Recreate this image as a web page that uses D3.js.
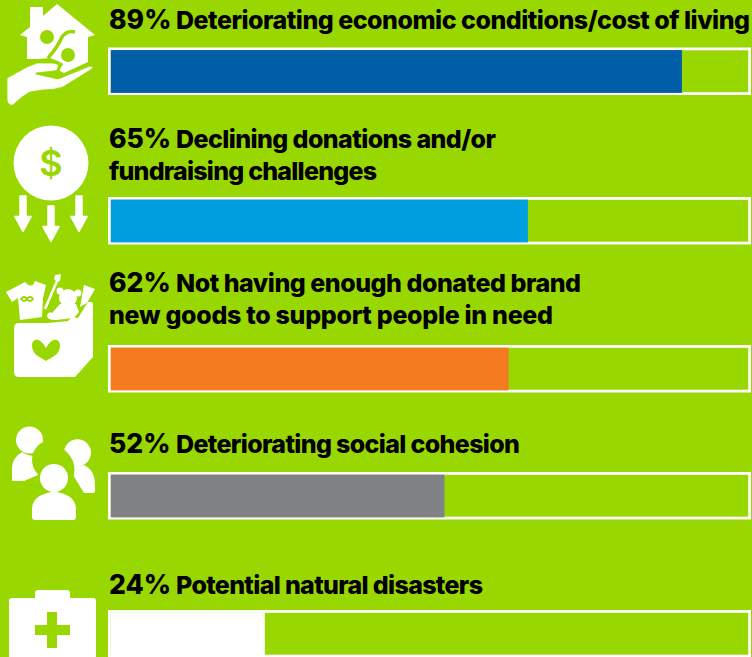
<!DOCTYPE html>
<html>
<head>
<meta charset="utf-8">
<script src="https://cdn.jsdelivr.net/npm/d3@7"></script>
<style>
html, body { margin: 0; padding: 0; background: #99d700; overflow: hidden; }
text { font-family: Inter, "Noto Sans", sans-serif; font-weight: 800; fill: #000; }
</style>
</head>
<body>
<svg id="chart"></svg>
<script>
const values = [89, 65, 62, 52, 24];
const labels = [
    ["Deteriorating economic conditions/cost of living"],
    ["Declining donations and/or", "fundraising challenges"],
    ["Not having enough donated brand", "new goods to support people in need"],
    ["Deteriorating social cohesion"],
    ["Potential natural disasters"]
];
const barColors = ["#005ea8", "#009fe0", "#f47b20", "#808285", "#ffffff"];
const barTops = [47.5, 197, 345, 472, 610];
const firstLineY = [29, 148, 292, 453, 594];
// widths the label lines take up in the reference
const lineWidths = [[574], [320, 268], [405, 444], [344], [307]];

const width = 752, height = 657;
const green = "#99d700";

const svg = d3.select("#chart").attr("width", width).attr("height", height);

const x = d3.scaleLinear().domain([0, 100]).range([110.8, 752.5]);

const rows = svg.selectAll("g.row")
    .data(values.map((v, i) => ({ v, i })))
    .join("g")
    .attr("class", "row");

// outline
rows.append("rect")
    .attr("x", 109.4)
    .attr("y", d => barTops[d.i] + 1.4)
    .attr("width", 640.2)
    .attr("height", 44.7)
    .attr("fill", "none")
    .attr("stroke", "#fff")
    .attr("stroke-width", 2.8);

// value bar
rows.append("rect")
    .attr("x", x(0))
    .attr("y", d => barTops[d.i] + 2.6)
    .attr("width", d => x(d.v) - x(0))
    .attr("height", 42.8)
    .attr("fill", d => barColors[d.i]);

// labels
rows.each(function(d) {
    const g = d3.select(this);
    labels[d.i].forEach((line, k) => {
        const y = firstLineY[d.i] + k * 32;
        if (k === 0) {
            g.append("text").attr("x", 109).attr("y", y)
                .attr("font-size", 26.5)
                .text(d.v + "%");
        }
        g.append("text")
            .attr("x", k === 0 ? 176 : 109)
            .attr("y", y)
            .attr("font-size", 25)
            .attr("textLength", lineWidths[d.i][k])
            .text(line);
    });
});

// icons
const icons = svg.append("g").attr("fill", "#fff");

// house in hand
icons.append("path").attr("d", "M57 4 L95 35 L88 37 L88 62 L64 73 L58 70 L60 62 L50 58 L38 59 L27 59 L27 37 L20 35 L30 27 L30 7 L43 7 L43 16 Z");
icons.append("circle").attr("cx", 47).attr("cy", 37).attr("r", 7).attr("fill", green);
icons.append("circle").attr("cx", 68).attr("cy", 55).attr("r", 7).attr("fill", green);
icons.append("path").attr("d", "M48 58 Q57 48 62 37 Q67 30 75 32").attr("fill", "none").attr("stroke", green).attr("stroke-width", 3.5);
icons.append("path").attr("d", "M58 73 Q58 68 62 63").attr("fill", "none").attr("stroke", green).attr("stroke-width", 3);
icons.append("path").attr("d", "M7 78 L27 67 L37 63 L53 63 Q60 64 58 67 Q58 71 54 71 L36 73 L36 74 L58 79 L90 66 Q94 67 92 69 L63 87 Q55 90 43 90 L30 92 Q22 96 13 105 Q8 106 7 100 Z")
    .attr("stroke", green).attr("stroke-width", 0.8);

// coin with arrows
icons.append("circle").attr("cx", 51).attr("cy", 163).attr("r", 37.5);
svg.append("text").attr("x", 51).attr("y", 176).attr("text-anchor", "middle").attr("font-size", 36).style("font-weight", 600).style("fill", green).text("$");
[[23, 195], [51, 205], [79, 195]].forEach(a => {
    icons.append("path")
        .attr("stroke", "#fff").attr("stroke-width", 1.5).attr("stroke-linejoin", "round")
        .attr("d", `M${a[0] - 3} ${a[1] + 1} L${a[0] + 3} ${a[1] + 1} L${a[0] + 3} ${a[1] + 21.5} L${a[0] + 8.2} ${a[1] + 21.5} L${a[0]} ${a[1] + 36.5} L${a[0] - 8.2} ${a[1] + 21.5} L${a[0] - 3} ${a[1] + 21.5} Z`);
});

// box of goods
icons.append("path").attr("d", "M19 323 Q14 323 14 328 L14 372 Q14 377 19 377 L75 377 L93 357 L93 304 Q93 302 91 302 L88 302 L78 318 L72 317 L68 321 L48 323 Z");
icons.append("path").attr("d", "M46 348 C40 337 32 338 32 346 C32 355 42 358 46 361 C50 358 60 355 60 346 C60 338 52 337 46 348 Z").attr("fill", green);
// tee
icons.append("path").attr("d", "M6 292 L25 282 Q29 287 33 285 L35 281 L46 285 L43 298 L42 317 L20 320 L18 298 L12 302 Z");
icons.append("path").attr("d", "M21 299 Q24 295 27 299 Q30 303 33 299 Q30 295 27 299 Q24 303 21 299 Z").attr("fill", "none").attr("stroke", green).attr("stroke-width", 1.8);
// toothbrush
icons.append("path").attr("d", "M45 309 L57 281").attr("stroke", "#fff").attr("stroke-width", 2.6).attr("fill", "none");
icons.append("path").attr("d", "M55 275 L61 274 L60 281 L57 282 L54 279 Z");
// bear
icons.append("circle").attr("cx", 68).attr("cy", 298).attr("r", 9);
icons.append("circle").attr("cx", 60).attr("cy", 291).attr("r", 3.5);
icons.append("circle").attr("cx", 78).attr("cy", 293).attr("r", 3.5);
icons.append("path").attr("d", "M52 313 L60 304 L76 304 L79 312 L74 318 L56 320 Q46 320 47 315 Q49 311 52 313 Z");
// tube
icons.append("path").attr("d", "M84 285 L95 289 L87 303 L80 307 Z");

// people, back two cut by green circles
icons.append("circle").attr("cx", 29.5).attr("cy", 440).attr("r", 13.5);
icons.append("path").attr("d", "M12 481 L12 468 Q12 458 22 452 Q26 455 34 456 L38 475 L24 481 Z");
icons.append("circle").attr("cx", 52).attr("cy", 460).attr("r", 20).attr("fill", green);
icons.append("circle").attr("cx", 77.5).attr("cy", 452.7).attr("r", 13.5);
icons.append("path").attr("d", "M84 465 Q95 470 95 485 L95 491 Q95 493 93 493 L84 493 L70 470 L76 465 Q80 467 84 465 Z");
icons.append("path").attr("d", "M50 445.5 A24.5 24.5 0 0 1 50 494.5 Z").attr("fill", green);
icons.append("circle").attr("cx", 54).attr("cy", 478).attr("r", 14);
icons.append("path").attr("d", "M32 510 Q32 498 44 494 L54 491 L64 494 Q76 498 76 510 L76 517 Q76 520 73 520 L35 520 Q32 520 32 517 Z");

// medical kit
icons.append("path").attr("d", "M35 598 L35 593 Q35 590 38 590 L67 590 Q70 590 70 593 L70 598 L93 598 Q96 598 96 601 L96 657 L9 657 L9 601 Q9 598 12 598 Z");
icons.append("path").attr("d", "M47 612 L57 612 L57 625 L70 625 L70 635 L57 635 L57 648 L47 648 L47 635 L35 635 L35 625 L47 625 Z").attr("fill", green);
</script>
</body>
</html>
